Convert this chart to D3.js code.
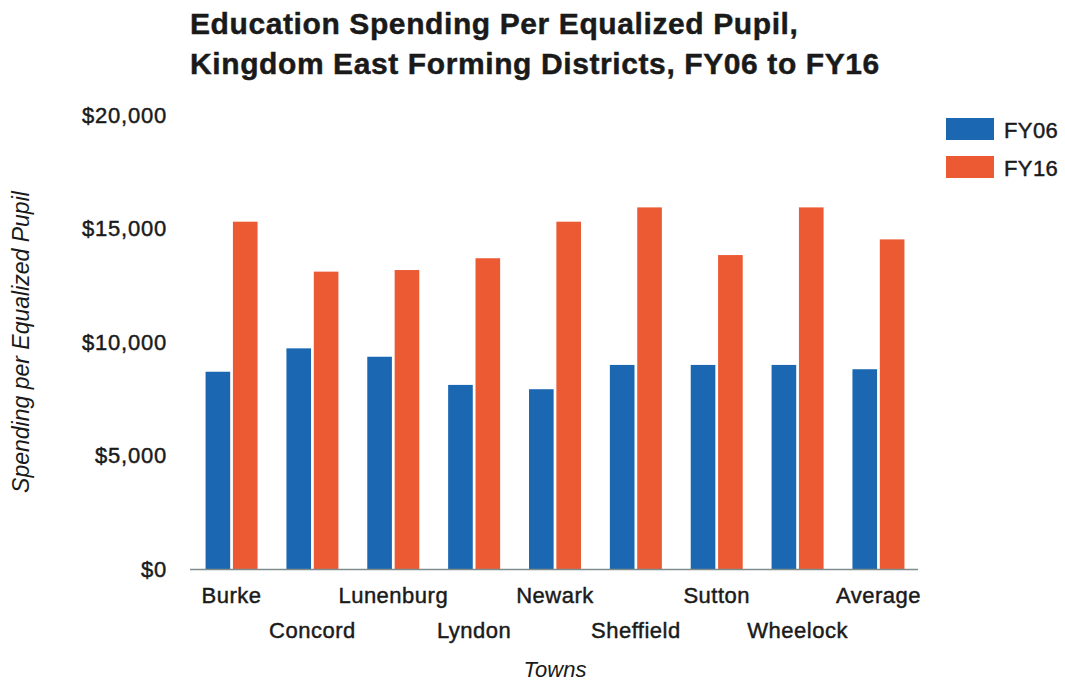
<!DOCTYPE html>
<html>
<head>
<meta charset="utf-8">
<script src="https://cdn.jsdelivr.net/npm/d3@7"></script>
<style>
  html, body { margin: 0; padding: 0; background: #fff; }
  svg { display: block; font-family: "Liberation Sans", Arial, sans-serif; }
  .ink { stroke: #1a1a1a; stroke-width: 0.45px; paint-order: stroke; }
</style>
</head>
<body>
<svg id="chart" width="1065" height="689"></svg>
<script>
// Per-pupil spending by town
const towns = ["Burke", "Concord", "Lunenburg", "Lyndon", "Newark", "Sheffield", "Sutton", "Wheelock", "Average"];
const fy06 = [8690, 9720, 9350, 8110, 7920, 8990, 8990, 8990, 8800];
const fy16 = [15300, 13100, 13170, 13690, 15300, 15930, 13830, 15930, 14520];
const seriesNames = ["FY06", "FY16"];
const seriesColors = ["#1b67b2", "#ec5a33"];
const yTicks = [0, 5000, 10000, 15000, 20000];

const titleLines = [
  "Education Spending Per Equalized Pupil,",
  "Kingdom East Forming Districts, FY06 to FY16"
];

const svg = d3.select("#chart");
const textColor = "#1a1a1a";

const x0 = d3.scaleBand().domain(towns).range([191, 919]).paddingInner(0.357).paddingOuter(0.18);
const x1 = d3.scaleBand().domain(seriesNames).range([0, x0.bandwidth()]).paddingInner(0.1);
const y = d3.scaleLinear().domain([0, 20000]).range([569, 115]);

// Title
svg.append("g").selectAll("text").data(titleLines).join("text")
  .attr("class", "ink")
  .attr("x", 190)
  .attr("y", (d, i) => 34 + i * 40)
  .attr("font-size", 30)
  .attr("font-weight", "bold")
  .attr("letter-spacing", 0.6)
  .attr("fill", textColor)
  .text(d => d);

// Y axis labels
const yAxis = d3.axisLeft(y).tickValues(yTicks).tickSize(0).tickPadding(0)
  .tickFormat(d => "$" + d3.format(",")(d));
const yg = svg.append("g").attr("transform", "translate(167,0)").call(yAxis);
yg.select(".domain").remove();
yg.selectAll("text")
  .attr("class", "ink")
  .attr("font-size", 22)
  .attr("letter-spacing", 0.8)
  .attr("font-family", "'Liberation Sans', Arial, sans-serif")
  .attr("fill", textColor);

// Bars
const rows = towns.map((t, i) => ({ town: t, values: [fy06[i], fy16[i]] }));
const groups = svg.append("g").selectAll("g").data(rows).join("g")
  .attr("transform", d => `translate(${x0(d.town)},0)`);
groups.selectAll("rect")
  .data(d => d.values.map((v, j) => ({ key: seriesNames[j], value: v, color: seriesColors[j] })))
  .join("rect")
  .attr("x", d => x1(d.key))
  .attr("width", x1.bandwidth())
  .attr("y", d => y(d.value))
  .attr("height", d => y(0) - y(d.value))
  .attr("fill", d => d.color);

// Baseline
svg.append("line")
  .attr("x1", 190).attr("x2", 918)
  .attr("y1", y(0) + 0.5).attr("y2", y(0) + 0.5)
  .attr("stroke", "#7f8c8c")
  .attr("stroke-width", 1.5);

// Category labels, staggered over two rows
const xAxis = d3.axisBottom(x0).tickSize(0).tickPadding(0);
const xg = svg.append("g").call(xAxis);
xg.select(".domain").remove();
xg.selectAll("text")
  .attr("class", "ink")
  .attr("y", (d, i) => (i % 2 === 0 ? 603 : 638))
  .attr("dy", null)
  .attr("font-size", 22)
  .attr("letter-spacing", 0.5)
  .attr("font-family", "'Liberation Sans', Arial, sans-serif")
  .attr("fill", textColor);

// Axis titles
svg.append("text")
  .attr("x", 555).attr("y", 677)
  .attr("text-anchor", "middle")
  .attr("font-size", 22)
  .attr("font-style", "italic")
  .attr("fill", textColor)
  .text("Towns");

svg.append("text")
  .attr("transform", "translate(29,342) rotate(-90)")
  .attr("text-anchor", "middle")
  .attr("font-size", 23)
  .attr("font-style", "italic")
  .attr("fill", textColor)
  .text("Spending per Equalized Pupil");

// Legend
const legend = svg.append("g").selectAll("g").data(seriesNames).join("g")
  .attr("transform", (d, i) => `translate(946,${118 + i * 38})`);
legend.append("rect")
  .attr("width", 48).attr("height", 22)
  .attr("fill", (d, i) => seriesColors[i]);
legend.append("text")
  .attr("class", "ink")
  .attr("x", 58).attr("y", 20)
  .attr("font-size", 22)
  .attr("letter-spacing", 0.4)
  .attr("fill", textColor)
  .text(d => d);
</script>
</body>
</html>
